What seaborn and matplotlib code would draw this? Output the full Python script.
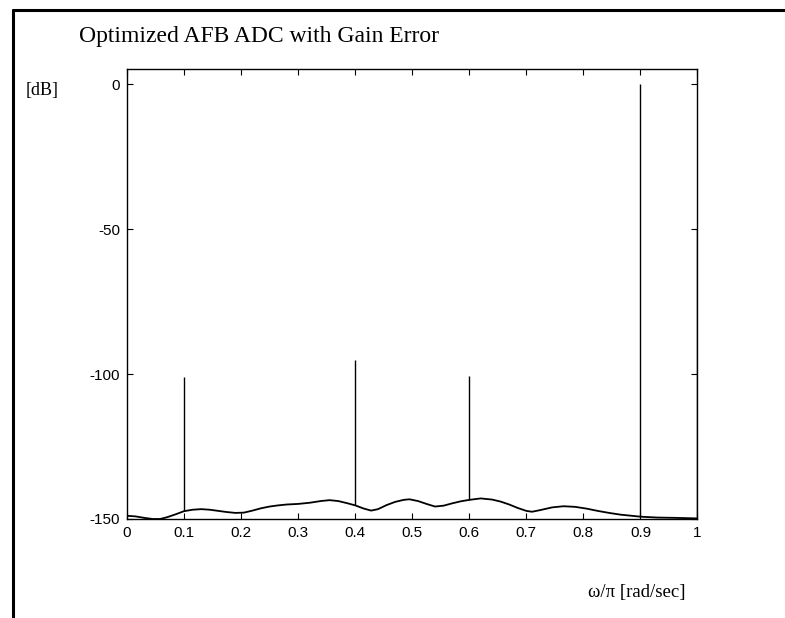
import numpy as np
import pandas as pd
import matplotlib
matplotlib.use("Agg")
import matplotlib.pyplot as plt
import seaborn as sns
from matplotlib.lines import Line2D

# Baseline (noise floor)
freq = [0.0, 0.015, 0.03, 0.045, 0.058, 0.07, 0.085, 0.1, 0.115, 0.13, 0.145,
        0.16, 0.175, 0.19, 0.205, 0.22, 0.235, 0.25, 0.265, 0.28, 0.3,
        0.32, 0.34, 0.355, 0.37, 0.385, 0.4, 0.415, 0.428, 0.44, 0.455,
        0.47, 0.485, 0.495, 0.51, 0.525, 0.54, 0.555, 0.57, 0.585, 0.6,
        0.62, 0.64, 0.655, 0.67, 0.685, 0.7, 0.71, 0.725, 0.745, 0.765,
        0.785, 0.805, 0.825, 0.845, 0.865, 0.885, 0.9, 0.93, 0.96, 1.0]
level_db = [-148.9, -149.1, -149.6, -150.0, -150.0, -149.4, -148.4, -147.3, -146.8, -146.6, -146.8,
            -147.2, -147.6, -147.9, -147.8, -147.1, -146.3, -145.7, -145.3, -145.0, -144.8,
            -144.4, -143.8, -143.5, -143.8, -144.5, -145.3, -146.4, -147.1, -146.6, -145.2,
            -144.1, -143.4, -143.2, -143.8, -144.8, -145.7, -145.4, -144.6, -143.9, -143.4,
            -142.9, -143.3, -144.0, -145.0, -146.2, -147.2, -147.5, -146.9, -146.0, -145.6,
            -145.8, -146.4, -147.2, -147.9, -148.5, -148.9, -149.2, -149.5, -149.6, -149.8]

# Spectral spikes
spike_freq = [0.1, 0.4, 0.6, 0.9, 1.0]
spike_base_db = [-147.3, -145.3, -143.4, -149.2, -149.8]
spike_top_db = [-101.0, -95.0, -100.8, 0.0, -50.0]

x_ticks = [0, 0.1, 0.2, 0.3, 0.4, 0.5, 0.6, 0.7, 0.8, 0.9, 1.0]
x_tick_labels = ["0", "0.1", "0.2", "0.3", "0.4", "0.5", "0.6", "0.7", "0.8", "0.9", "1"]
y_ticks = [-150, -100, -50, 0]
y_tick_labels = ["-150", "-100", "-50", "0"]

title = "Optimized AFB ADC with Gain Error"
y_unit = "[dB]"
x_unit = "\u03c9/\u03c0 [rad/sec]"

sns.set_theme(style="ticks")
plt.rcParams['font.family'] = ['Liberation Sans', 'DejaVu Sans']

fig = plt.figure(figsize=(7.85, 6.18), dpi=100)
fig.patch.set_facecolor("white")
ax = fig.add_axes([127 / 785, 1 - 519 / 618, (697.5 - 127) / 785, (519 - 69) / 618])

df = pd.DataFrame({"freq": freq, "level": level_db})
sns.lineplot(data=df, x="freq", y="level", ax=ax, color="black", linewidth=1.3, sort=False)
ax.vlines(spike_freq, spike_base_db, spike_top_db, colors="black", linewidth=1.0)

ax.set_xlim(0, 1)
ax.set_ylim(-150, 5.2)
ax.set_xticks(x_ticks, x_tick_labels)
ax.set_yticks(y_ticks, y_tick_labels)
ax.tick_params(direction="in", length=4.5, width=0.8, top=True, right=True,
               labelsize=11, colors="black", pad=5)
for s in ax.spines.values():
    s.set_visible(True)
    s.set_linewidth(1.0)
    s.set_color("black")
ax.set_xlabel("")
ax.set_ylabel("")
ax.set_facecolor("white")

fig.text(79 / 785, 1 - 41.7 / 618, title, family=['Liberation Serif'], fontsize=17,
         va="baseline", ha="left", color="black")
fig.text(26 / 785, 1 - 95 / 618, y_unit, family=['Liberation Serif'], fontsize=13,
         va="baseline", ha="left", color="black")
fig.text(588 / 785, 1 - 597 / 618, x_unit, family=['Liberation Serif', 'DejaVu Serif'], fontsize=13.5,
         va="baseline", ha="left", color="black")

# Figure frame (left and top borders)
fig.add_artist(Line2D([13 / 785, 13 / 785], [0, 1 - 10 / 618], transform=fig.transFigure,
                      color="black", linewidth=2.2))
fig.add_artist(Line2D([13 / 785, 1], [1 - 10 / 618, 1 - 10 / 618], transform=fig.transFigure,
                      color="black", linewidth=2.2))

fig.savefig("out.png", dpi=100, facecolor="white")
